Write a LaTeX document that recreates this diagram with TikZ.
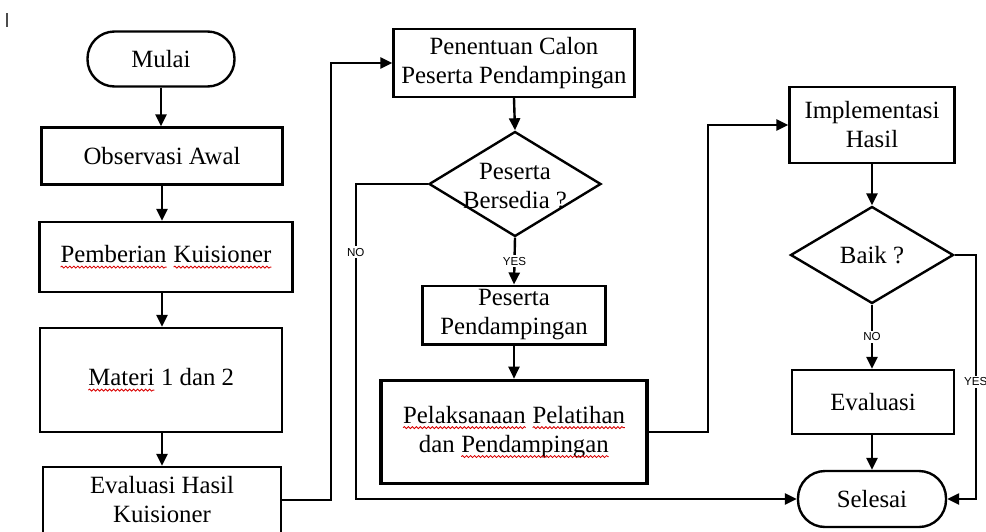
\documentclass[tikz,border=0pt]{standalone}
\usepackage{fontspec}
\setmainfont{Liberation Serif}
\setsansfont{Liberation Sans}
\usepackage{tikz}
\usetikzlibrary{arrows.meta,shapes.geometric,positioning,decorations.pathmorphing}

\newcommand\spellwave[1]{\tikz[baseline=(w.base)]{\node[draw=none, shape=rectangle, inner sep=0pt, outer sep=0pt, minimum width=0pt, minimum height=0pt] (w) {#1};
  \draw[-, red!85!black, line width=0.4pt, decorate, decoration={snake, amplitude=0.5pt, segment length=2pt}] ([yshift=-2.2pt]w.base west) -- ([yshift=-2.2pt]w.base east);}}

\tikzset{
  stepbox/.style = {draw, line width=1.2pt, align=center, inner sep=2pt},
  endbox/.style = {draw, line width=1.2pt, rounded corners=13.5pt, align=center},
  decision/.style = {draw, diamond, line width=1.2pt, inner sep=0pt},
  flow/.style = {line width=1.2pt, -{Triangle[length=6pt, width=5.5pt]}},
  answer/.style = {fill=white, inner sep=1pt, font=\sffamily\fontsize{5.8}{6}\selectfont},
}

\begin{document}
\begin{tikzpicture}[x=0.5pt, y=-0.5pt, font=\fontsize{12.4}{14.5}\selectfont]
        \useasboundingbox (0,0) rectangle (986,531);
        \draw[line width=1pt, black!70] (7,13) -- (7,27);

        % left column
        \node[endbox, minimum width=73.5pt, minimum height=27.5pt] (mulai) at (161,59) {Mulai};
        \node[stepbox, minimum width=120.5pt, minimum height=28.5pt] (observasi) at (162,156) {Observasi Awal};
        \node[stepbox, minimum width=126.5pt, minimum height=35pt] (kuisioner) at (166,257) {\spellwave{Pemberian} \spellwave{Kuisioner}};
        \node[stepbox, minimum width=121pt, minimum height=52pt] (materi) at (161,380) {\spellwave{Materi} 1 dan 2};
        \node[stepbox, minimum width=119pt, minimum height=33pt] (eval-hasil) at (162,500) {Evaluasi Hasil\\Kuisioner};

        % middle column
        \node[stepbox, minimum width=120.5pt, minimum height=34pt] (penentuan) at (514,63) {Penentuan Calon\\Peserta Pendampingan};
        \node[decision, minimum width=86pt, minimum height=52.5pt] (bersedia) at (515,184) {};
        \node[align=center, inner sep=0pt] (bersedia-t) at (515,186) {Peserta\\Bersedia ?};
        \node[stepbox, minimum width=91.5pt, minimum height=28.5pt] (peserta) at (514,315) {Peserta\\Pendampingan};
        \node[stepbox, line width=1.8pt, minimum width=133pt, minimum height=51.5pt] (pelaksanaan) at (514,432) {\spellwave{Pelaksanaan} \spellwave{Pelatihan}\\dan \spellwave{Pendampingan}};

        % right column
        \node[stepbox, minimum width=82.5pt, minimum height=38pt] (implementasi) at (872,125) {Implementasi\\Hasil};
        \node[decision, minimum width=81.5pt, minimum height=48.5pt] (baik) at (872,255) {};
        \node[inner sep=0pt] (baik-t) at (872,255) {Baik ?};
        \node[stepbox, minimum width=81pt, minimum height=32pt] (evaluasi) at (873,402) {Evaluasi};
        \node[endbox, minimum width=74pt, minimum height=28pt] (selesai) at (872,499) {Selesai};

        \draw[flow] (mulai.south) -- (mulai.south |- observasi.north);
        \draw[flow] (observasi.south) -- (observasi.south |- kuisioner.north);
        \draw[flow] (observasi.south |- kuisioner.south) -- (observasi.south |- materi.north);
        \draw[flow] (observasi.south |- materi.south) -- (observasi.south |- eval-hasil.north);
        \draw[flow] (eval-hasil.east) -- ++(49,0) |- (penentuan.west);

        \draw[flow] (penentuan.south) -- (bersedia.north);
        \draw[flow] (bersedia.west) -- ++(-72,0) |- node[answer, pos=0.108] {NO} (selesai.west);
        \draw[flow] (bersedia.south) -- node[answer] {YES} (peserta.north);
        \draw[flow] (peserta.south) -- (pelaksanaan.north);
        \draw[flow] (pelaksanaan.east) -- ++(59,0) |- (implementasi.west);

        \draw[flow] (implementasi.south) -- (baik.north);
        \draw[flow] (baik.south) -- node[answer] {NO} (baik.south |- evaluasi.north);
        \draw[flow] (baik.south |- evaluasi.south) -- (selesai.north);
        \draw[flow] (baik.east) -- ++(21,0) |- node[answer, pos=0.26] {YES} (selesai.east);
\end{tikzpicture}
\end{document}
